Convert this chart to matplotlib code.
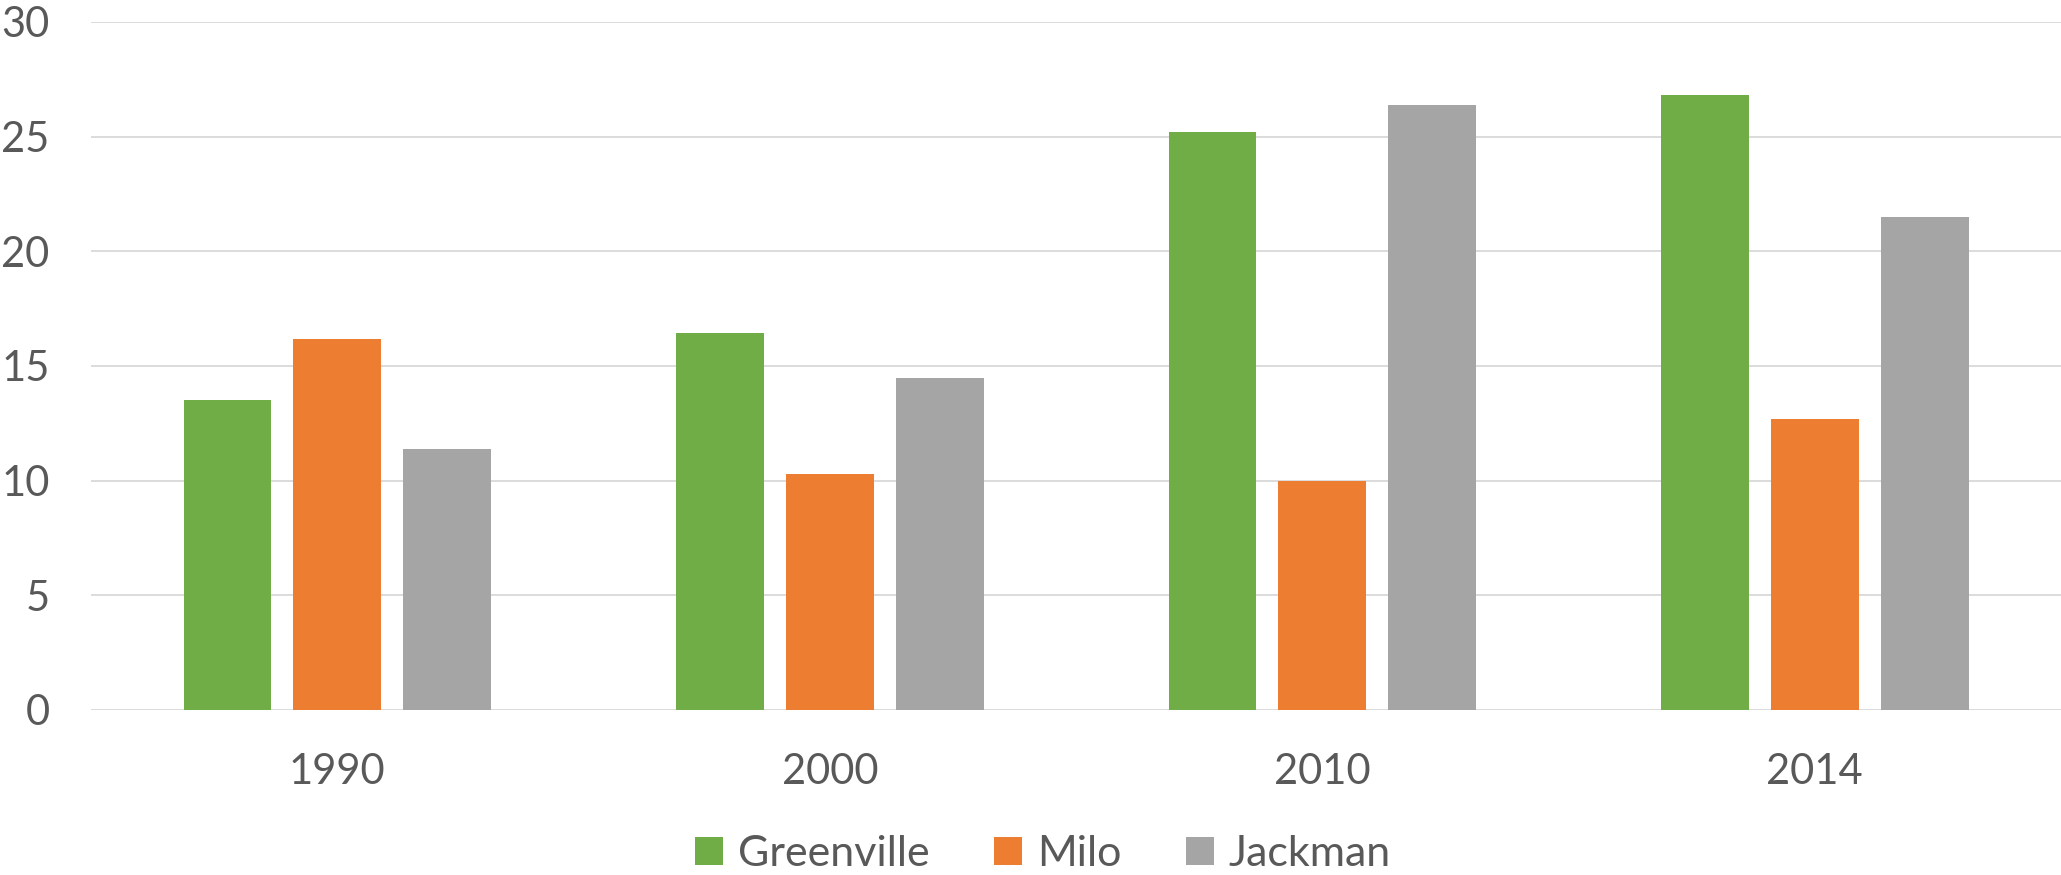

# Import Statements
import matplotlib
matplotlib.use("Agg")
import matplotlib.pyplot as plt
import numpy as np


# Data
years = ["1990", "2000", "2010", "2014"]
greenville = [13.52, 16.42, 25.21, 26.82]
milo = [16.18, 10.27, 9.99, 12.69]
jackman = [11.39, 14.47, 26.37, 21.49]

series_names = ["Greenville", "Milo", "Jackman"]
series_colors = ["#70AD47", "#ED7D31", "#A5A5A5"]
y_ticks = [0, 5, 10, 15, 20, 25, 30]

TEXT_COLOR = "#595959"
GRID_COLOR = "#D9D9D9"

plt.rcParams['font.family'] = ['Lato', 'DejaVu Sans']

# Set up figure and axes
fig = plt.figure(figsize=(20.61, 8.75), dpi=100)
ax = fig.add_axes([0.0442, 0.1886, 0.9558, 0.7863])

# Plot grouped bars
x = np.arange(len(years))
bar_width = 0.1785
step = 0.223
for i, (values, name, color) in enumerate(zip([greenville, milo, jackman], series_names, series_colors)):
	ax.bar(x + (i - 1) * step, values, width=bar_width, color=color, label=name, zorder=2)

# Axis limits and ticks
ax.set_xlim(-0.5, len(years) - 0.5)
ax.set_ylim(0, 30)
ax.set_xticks(x)
ax.set_xticklabels(years)
ax.set_yticks(y_ticks)
ax.tick_params(axis='both', length=0, labelsize=30, labelcolor=TEXT_COLOR)
ax.tick_params(axis='y', pad=30)
ax.tick_params(axis='x', pad=31)

# Horizontal grid lines only, behind the bars
ax.grid(axis='y', color=GRID_COLOR, linewidth=1.3, zorder=0)
ax.set_axisbelow(True)
for spine in ax.spines.values():
	spine.set_visible(False)

# Legend below the plot
fig.legend(loc='center', bbox_to_anchor=(0.506, 0.024), ncol=3, frameon=False,
		   fontsize=31, labelcolor=TEXT_COLOR, handlelength=0.65, handleheight=0.65,
		   handletextpad=0.35, columnspacing=1.5)

plt.savefig("out.png", dpi=100)
